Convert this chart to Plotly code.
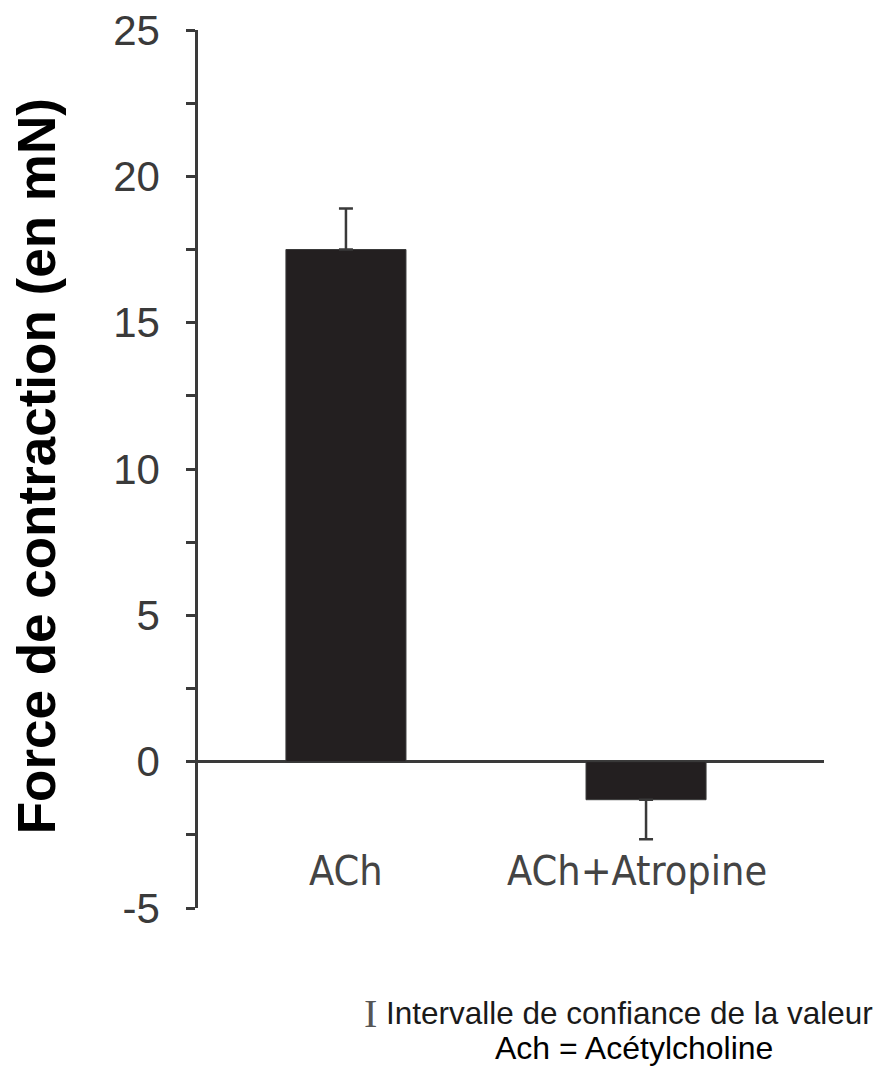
import plotly.graph_objects as go

categories = ["ACh", "ACh+Atropine"]
values = [17.5, -1.3]
err_plus = [1.4, 0.0]
err_minus = [0.0, 1.35]
y_ticks = [-5, 0, 5, 10, 15, 20, 25]
y_ticktext = ["-5", "0", "5", "10", "15", "20", "25"]
y_title = "Force de contraction (en mN)"
note_ci = "Intervalle de confiance de la valeur"
note_ach = "Ach = Acétylcholine"

xpos = list(range(len(categories)))

fig = go.Figure()
fig.add_trace(go.Bar(
    x=xpos, y=values, width=0.4,
    marker=dict(color="#231f20", line=dict(color="#3a3a3a", width=1)),
    error_y=dict(type="data", symmetric=False, array=err_plus, arrayminus=err_minus,
                 color="#3a3a3a", thickness=2.5, width=7),
    showlegend=False,
))

label_x = [0.0, 0.97]
for xi, lab in zip(label_x, categories):
    fig.add_annotation(x=xi, y=-3.75, xref="x", yref="y", text=lab, showarrow=False,
                       font=dict(family="DejaVu Sans Condensed, Liberation Sans, Arial", size=41, color="#444444"),
                       xanchor="center", yanchor="middle")

fig.add_annotation(x=-0.2588, y=0.503, xref="paper", yref="paper", text=y_title, textangle=-90,
                   showarrow=False, xanchor="center", yanchor="middle",
                   font=dict(family="Liberation Sans, Arial", size=53, color="#000000", weight="bold"))

fig.add_annotation(x=0.276, y=-0.1196, xref="paper", yref="paper", text="I", showarrow=False,
                   xanchor="center", yanchor="middle",
                   font=dict(family="Liberation Serif, DejaVu Serif", size=40, color="#555555"))
fig.add_annotation(x=1.082, y=-0.1196, xref="paper", yref="paper", text=note_ci, showarrow=False,
                   xanchor="right", yanchor="middle",
                   font=dict(family="Liberation Sans, Arial", size=31.5, color="#1a1a1a"))
fig.add_annotation(x=0.6965, y=-0.1595, xref="paper", yref="paper", text=note_ach, showarrow=False,
                   xanchor="center", yanchor="middle",
                   font=dict(family="Liberation Sans, Arial", size=32, color="#000000"))

fig.update_layout(
    width=881, height=1077,
    margin=dict(l=190, r=65, t=22, b=177),
    plot_bgcolor="white", paper_bgcolor="white",
    xaxis=dict(range=[-0.493, 1.593], showticklabels=False, showgrid=False, zeroline=False,
               showline=False, ticks="", automargin=False),
    yaxis=dict(range=[-5, 25], tickvals=y_ticks, ticktext=y_ticktext, ticks="outside", ticklen=9,
               tickwidth=2.5, tickcolor="#3a3a3a", showline=True, linecolor="#3a3a3a", linewidth=2.5,
               showgrid=False, zeroline=True, zerolinecolor="#3a3a3a", zerolinewidth=2.5,
               ticklabelstandoff=18, ticklabeloverflow="allow", automargin=False,
               minor=dict(tickvals=[-2.5, 2.5, 7.5, 12.5, 17.5, 22.5], ticks="outside", ticklen=9,
                          tickwidth=2.5, tickcolor="#3a3a3a", showgrid=False),
               tickfont=dict(family="Liberation Sans, Arial", size=42, color="#3a3a3a")),
)

fig.write_html("out.html")
